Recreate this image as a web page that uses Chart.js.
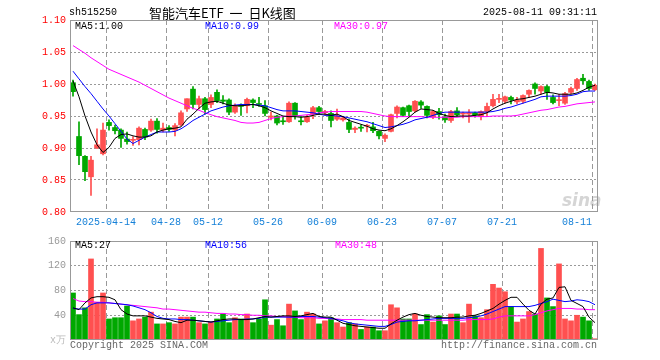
<!DOCTYPE html>
<html>
<head>
<meta charset="utf-8">
<script src="https://cdn.jsdelivr.net/npm/chart.js@4.4.1/dist/chart.umd.min.js"></script>
<style>
  body { margin: 0; background: #fff; }
  #wrap { position: relative; width: 660px; height: 360px; overflow: hidden; font-family: "Liberation Mono", monospace; font-size: 10px; }
  canvas { position: absolute; left: 0; }
  .t { position: absolute; white-space: pre; line-height: 12px; }
</style>
</head>
<body>
<div id="wrap">
  <canvas id="kline" width="660" height="226" style="top:0"></canvas>
  <canvas id="vol" width="660" height="134" style="top:226px"></canvas>

  <div class="t" style="left:69px;top:7px;color:#000">sh515250</div>
  <div class="t" style="left:149px;top:5px;font-family:'Noto Sans CJK SC';font-size:13px;line-height:16px;word-spacing:3px;color:#000">智能汽车ETF 一 日K线图</div>
  <div class="t" style="right:63px;top:7px;color:#000">2025-08-11 09:31:11</div>

  <div class="t" style="left:75px;top:21px;color:#000">MA5:1.00</div>
  <div class="t" style="left:205px;top:21px;color:#0000ff">MA10:0.99</div>
  <div class="t" style="left:334px;top:21px;color:#ff00ff">MA30:0.97</div>

  <div class="t" style="left:75px;top:240px;color:#000">MA5:27</div>
  <div class="t" style="left:205px;top:240px;color:#0000ff">MA10:56</div>
  <div class="t" style="left:335px;top:240px;color:#ff00ff">MA30:48</div>

  <div class="t" style="left:562px;top:190px;font-family:'DejaVu Sans';font-style:italic;font-weight:bold;font-size:17px;line-height:20px;color:rgba(150,150,150,0.4)">sina</div>

  <div class="t" style="left:70px;top:340px;color:#666">Copyright 2025 SINA.COM</div>
  <div class="t" style="right:63px;top:340px;color:#666">http://finance.sina.com.cn</div>
</div>

<script>
// trading days shown (2025)
const dates = [
  '04-03','04-07','04-08','04-09','04-10','04-11',
  '04-14','04-15','04-16','04-17','04-18',
  '04-21','04-22','04-23','04-24','04-25',
  '04-28','04-29','04-30',
  '05-06','05-07','05-08','05-09',
  '05-12','05-13','05-14','05-15','05-16',
  '05-19','05-20','05-21','05-22','05-23',
  '05-26','05-27','05-28','05-29','05-30',
  '06-03','06-04','06-05','06-06',
  '06-09','06-10','06-11','06-12','06-13',
  '06-16','06-17','06-18','06-19','06-20',
  '06-23','06-24','06-25','06-26','06-27',
  '06-30','07-01','07-02','07-03','07-04',
  '07-07','07-08','07-09','07-10','07-11',
  '07-14','07-15','07-16','07-17','07-18',
  '07-21','07-22','07-23','07-24','07-25',
  '07-28','07-29','07-30','07-31','08-01',
  '08-04','08-05','08-06','08-07','08-08',
  '08-11'
];

// dates that carry an axis label
const tickText = {
  '04-14': '2025-04-14', '04-28': '04-28', '05-12': '05-12', '05-26': '05-26',
  '06-09': '06-09', '06-23': '06-23', '07-07': '07-07', '07-21': '07-21', '08-11': '08-11'
};

const open = [
  1.002,0.918,0.887,0.855,0.900,0.891,0.940,0.932,0.928,0.914,
  0.912,0.913,0.929,0.928,0.942,0.928,0.932,0.928,0.936,0.961,
  0.992,0.968,0.977,0.968,0.987,0.975,0.975,0.956,0.966,0.966,
  0.975,0.969,0.966,0.948,0.950,0.942,0.941,0.970,0.942,0.941,
  0.953,0.963,0.955,0.954,0.945,0.944,0.940,0.929,0.932,0.934,
  0.933,0.926,0.915,0.926,0.954,0.963,0.966,0.958,0.972,0.965,
  0.949,0.957,0.948,0.943,0.958,0.953,0.953,0.955,0.949,0.957,
  0.966,0.976,0.973,0.979,0.972,0.973,0.984,1.000,0.989,0.996,
  0.979,0.974,0.970,0.987,0.993,1.009,1.004,0.991
];
const high = [
  1.006,0.941,0.888,0.887,0.930,0.939,0.944,0.936,0.930,0.925,
  0.918,0.933,0.931,0.945,0.946,0.939,0.935,0.938,0.958,0.977,
  0.996,0.981,0.979,0.983,0.991,0.982,0.977,0.969,0.969,0.978,
  0.977,0.979,0.974,0.956,0.951,0.948,0.972,0.971,0.950,0.951,
  0.965,0.965,0.959,0.958,0.961,0.949,0.945,0.933,0.936,0.937,
  0.940,0.927,0.922,0.953,0.966,0.964,0.967,0.974,0.974,0.966,
  0.959,0.962,0.953,0.959,0.963,0.956,0.960,0.956,0.958,0.970,
  0.984,0.984,0.981,0.981,0.979,0.983,0.991,1.002,0.997,0.998,
  0.983,0.984,0.987,0.995,1.009,1.015,1.006,1.000
];
const low = [
  0.981,0.874,0.849,0.826,0.899,0.889,0.928,0.922,0.901,0.906,
  0.904,0.905,0.913,0.926,0.923,0.925,0.926,0.919,0.935,0.957,
  0.961,0.961,0.953,0.963,0.971,0.969,0.952,0.954,0.951,0.955,
  0.963,0.965,0.950,0.944,0.936,0.937,0.940,0.945,0.936,0.940,
  0.946,0.952,0.952,0.933,0.943,0.942,0.924,0.924,0.926,0.925,
  0.924,0.914,0.910,0.925,0.947,0.949,0.950,0.956,0.962,0.947,
  0.946,0.945,0.940,0.940,0.949,0.947,0.940,0.948,0.944,0.950,
  0.964,0.971,0.970,0.969,0.969,0.970,0.979,0.984,0.984,0.976,
  0.969,0.966,0.968,0.985,0.990,1.000,0.990,0.990
];
const close = [
  0.988,0.888,0.863,0.881,0.905,0.928,0.935,0.927,0.915,0.910,
  0.913,0.931,0.917,0.942,0.929,0.931,0.929,0.935,0.955,0.977,
  0.968,0.977,0.960,0.979,0.974,0.973,0.956,0.966,0.965,0.976,
  0.971,0.968,0.954,0.950,0.939,0.941,0.970,0.950,0.941,0.949,
  0.963,0.957,0.957,0.943,0.950,0.947,0.929,0.931,0.931,0.935,
  0.927,0.919,0.920,0.952,0.964,0.951,0.957,0.973,0.967,0.951,
  0.957,0.952,0.944,0.957,0.952,0.954,0.955,0.952,0.957,0.965,
  0.976,0.977,0.980,0.975,0.975,0.982,0.990,0.993,0.996,0.987,
  0.971,0.975,0.985,0.993,1.007,1.005,0.993,0.998
];

const ma5 = [
  1.005,0.980,0.950,0.925,0.905,0.893,0.901,0.915,0.921,0.922,
  0.919,0.917,0.917,0.919,0.925,0.928,0.930,0.931,0.933,0.945,
  0.953,0.962,0.970,0.972,0.973,0.970,0.967,0.966,0.966,0.967,
  0.968,0.966,0.963,0.958,0.954,0.950,0.949,0.949,0.948,0.949,
  0.951,0.953,0.953,0.951,0.953,0.949,0.943,0.940,0.937,0.934,
  0.930,0.928,0.927,0.930,0.935,0.941,0.948,0.956,0.961,0.960,
  0.959,0.954,0.951,0.949,0.950,0.950,0.950,0.951,0.952,0.955,
  0.961,0.966,0.970,0.973,0.976,0.977,0.979,0.981,0.984,0.987,
  0.986,0.984,0.984,0.984,0.986,0.990,0.995,0.998
];
const ma10 = [
  1.020,1.008,0.996,0.985,0.973,0.961,0.950,0.938,0.926,0.914,
  0.907,0.912,0.917,0.921,0.925,0.925,0.925,0.926,0.930,0.936,
  0.943,0.948,0.953,0.958,0.961,0.964,0.966,0.967,0.968,0.968,
  0.968,0.967,0.966,0.963,0.960,0.958,0.958,0.958,0.957,0.956,
  0.955,0.953,0.951,0.951,0.950,0.949,0.947,0.945,0.943,0.941,
  0.938,0.935,0.932,0.933,0.935,0.937,0.940,0.944,0.946,0.948,
  0.951,0.954,0.956,0.956,0.956,0.956,0.956,0.956,0.956,0.956,
  0.957,0.959,0.962,0.964,0.967,0.970,0.973,0.976,0.980,0.981,
  0.981,0.981,0.981,0.982,0.984,0.988,0.989,0.989
];
const ma30 = [
  1.060,1.054,1.048,1.041,1.035,1.029,1.023,1.019,1.015,1.011,
  1.007,1.003,0.998,0.993,0.988,0.983,0.978,0.974,0.970,0.966,
  0.962,0.959,0.955,0.952,0.949,0.947,0.945,0.943,0.940,0.939,
  0.939,0.940,0.943,0.946,0.948,0.949,0.950,0.950,0.951,0.952,
  0.953,0.955,0.956,0.957,0.957,0.957,0.957,0.957,0.957,0.956,
  0.954,0.952,0.950,0.949,0.949,0.949,0.949,0.949,0.949,0.948,
  0.948,0.948,0.948,0.948,0.948,0.949,0.949,0.949,0.949,0.949,
  0.950,0.950,0.950,0.950,0.951,0.953,0.955,0.957,0.959,0.960,
  0.962,0.964,0.965,0.967,0.969,0.970,0.971,0.972
];

// volume, unit 万
const volume = [
  76,41,52,131,61,76,34,36,36,55,
  31,34,37,45,26,26,28,26,37,37,
  37,28,26,29,34,42,28,36,34,42,
  28,34,65,24,33,23,58,47,33,45,
  42,26,31,36,28,21,28,26,17,21,
  21,15,15,57,52,34,34,42,25,41,
  29,39,25,42,42,28,58,39,36,49,
  90,84,78,54,29,34,46,42,148,68,
  54,123,34,31,40,37,31,2
];
const vma5 = [
  52,49,60,68,70,70,69,65,49,42,
  39,39,39,37,35,34,33,30,28,32,
  32,31,30,29,31,33,34,34,33,33,
  34,36,38,37,38,39,39,38,39,41,
  43,38,37,37,32,27,25,23,22,21,
  20,19,19,26,32,37,41,43,40,38,
  37,36,36,36,37,37,39,40,43,47,
  51,58,64,69,69,58,48,42,58,66,
  68,85,86,64,59,54,37,28
];
const vma10 = [
  51,50,50,57,60,60,60,59,58,57,
  55,52,49,44,38,35,34,34,33,33,
  32,31,30,29,30,31,32,33,33,34,
  34,35,37,37,37,37,37,37,38,38,
  38,37,36,35,33,31,28,26,25,24,
  23,22,22,25,29,30,31,31,32,33,
  34,35,35,35,35,35,36,37,39,42,
  46,50,54,54,54,54,54,56,59,62,
  66,64,62,63,65,64,62,57
];
const vma30 = [
  67,63,62,62,61,61,60,59,58,57,
  56,55,54,53,52,50,50,49,48,47,
  46,45,45,44,43,43,42,42,41,41,
  40,40,39,39,38,38,37,37,36,36,
  36,35,35,34,34,33,33,33,33,32,
  32,32,32,32,32,32,32,32,32,32,
  32,32,32,32,32,32,33,33,33,33,
  34,37,39,39,39,39,39,41,44,47,
  49,51,51,51,50,50,49,49
];

Chart.defaults.font.family = '"Liberation Mono", monospace';
Chart.defaults.font.size = 10;

const upColor = '#ff5050';
const downColor = '#00a800';
const barColors = open.map((o, i) => close[i] >= o ? upColor : downColor);

// gray frame round the plot area
const frame = {
  id: 'frame',
  afterDraw(chart) {
    const { ctx, chartArea: a } = chart;
    ctx.save();
    ctx.strokeStyle = '#999';
    ctx.lineWidth = 1;
    ctx.strokeRect(Math.round(a.left) + 0.5, Math.round(a.top) + 0.5, Math.round(a.width) - 1, Math.round(a.height) - 1);
    ctx.restore();
  }
};

const vGrid = (c) => (c.tick && tickText[dates[c.index]]) ? '#999' : 'transparent';

function maLine(label, data, color) {
  return {
    type: 'line', label, data, borderColor: color, borderWidth: 1,
    pointRadius: 0, tension: 0, fill: false, order: 0
  };
}

// 1. price panel
new Chart(document.getElementById('kline'), {
  type: 'bar',
  data: {
    labels: dates,
    datasets: [
      maLine('MA5', ma5, '#000000'),
      maLine('MA10', ma10, '#0000ff'),
      maLine('MA30', ma30, '#ff00ff'),
      {
        label: 'body',
        data: dates.map((d, i) => [open[i], close[i]]),
        backgroundColor: barColors,
        barThickness: 5, minBarLength: 1, grouped: false, order: 1
      },
      {
        label: 'wick',
        data: dates.map((d, i) => [low[i], high[i]]),
        backgroundColor: barColors,
        barThickness: 1, grouped: false, order: 2
      }
    ]
  },
  options: {
    responsive: false,
    animation: false,
    layout: { padding: { left: 0, right: 62, top: 20, bottom: 0 } },
    plugins: { legend: { display: false }, tooltip: { enabled: false } },
    scales: {
      x: {
        offset: true,
        grid: { offset: true, color: vGrid, drawTicks: false },
        border: { display: false, dash: [5, 3] },
        ticks: {
          autoSkip: false, maxRotation: 0, align: 'inner', labelOffset: -3, padding: 4,
          color: '#1580d8',
          callback: (v, i) => tickText[dates[i]] || ''
        },
        afterFit: (s) => { s.height = 14; }
      },
      y: {
        min: 0.80, max: 1.10,
        ticks: { stepSize: 0.05, padding: 4, color: '#ff0000', callback: (v) => v.toFixed(2) },
        grid: {
          drawTicks: false,
          color: (c) => (c.tick && c.tick.value > 0.801 && c.tick.value < 1.099) ? '#999' : 'transparent'
        },
        border: { display: false, dash: [2, 2] },
        afterFit: (s) => { s.width = 70; }
      }
    }
  },
  plugins: [frame]
});

// 2. volume panel
new Chart(document.getElementById('vol'), {
  type: 'bar',
  data: {
    labels: dates,
    datasets: [
      maLine('MA5', vma5, '#000000'),
      maLine('MA10', vma10, '#0000ff'),
      maLine('MA30', vma30, '#ff00ff'),
      {
        label: 'volume',
        data: volume,
        backgroundColor: barColors,
        barThickness: 5, order: 1
      }
    ]
  },
  options: {
    responsive: false,
    animation: false,
    layout: { padding: { left: 0, right: 62, top: 15, bottom: 20 } },
    plugins: { legend: { display: false }, tooltip: { enabled: false } },
    scales: {
      x: {
        offset: true,
        grid: { offset: true, color: vGrid, drawTicks: false },
        border: { display: false, dash: [5, 3] },
        ticks: { display: false },
        afterFit: (s) => { s.height = 0; }
      },
      y: {
        min: 0, max: 160,
        ticks: {
          stepSize: 40, padding: 4,
          color: (c) => c.tick.value === 0 ? '#bbb' : '#999',
          callback: (v) => v === 0 ? 'x万' : v
        },
        grid: {
          drawTicks: false,
          color: (c) => (c.tick && c.tick.value > 0 && c.tick.value < 160) ? '#999' : 'transparent'
        },
        border: { display: false, dash: [2, 2] },
        afterFit: (s) => { s.width = 70; }
      }
    }
  },
  plugins: [frame]
});
</script>
</body>
</html>
